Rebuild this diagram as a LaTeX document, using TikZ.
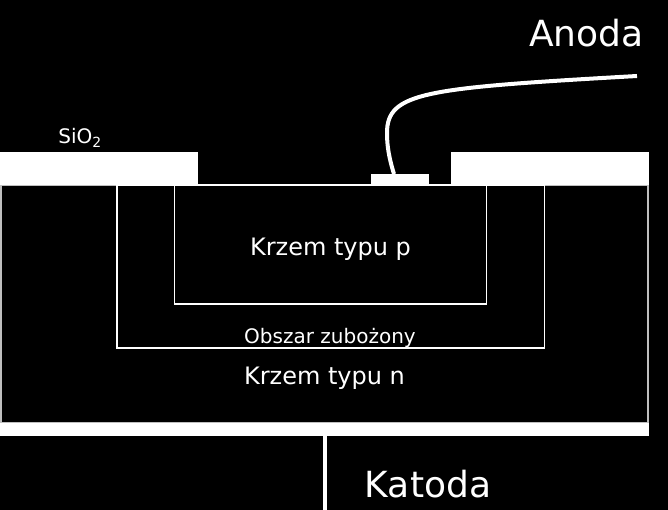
\documentclass[tikz,border=0pt]{standalone}
\usepackage{fontspec}
\setmainfont{DejaVu Sans}
\usepackage{tikz}
\usetikzlibrary{positioning}
\tikzset{
  oxide/.style={rectangle,fill=white,draw=none,inner sep=0pt,outer sep=0pt},
  region/.style={rectangle,draw=white,line width=1.2pt,inner sep=0pt,outer sep=0pt},
  label/.style={text=white,inner sep=0pt},
  wire/.style={draw=white,line width=4pt}
}

\begin{document}
\begin{tikzpicture}[x=1pt,y=-1pt]
  \fill[black] (0,0) rectangle (668,510);
  \useasboundingbox (0,0) rectangle (668,510);
  \node[region,draw=white!75!black,minimum width=647pt,minimum height=238pt] (substrate) at (324.5,304) {};
  \node[region,minimum width=427.5pt,minimum height=163pt] (depletion) at (330.75,266.5) {};
  \node[region,minimum width=312pt,minimum height=119pt] (ptype) at (330.5,244.5) {};
  \node[oxide,minimum width=198pt,minimum height=33pt] (oxideleft) at (99,168.5) {};
  \node[oxide,minimum width=198pt,minimum height=33pt] (oxideright) at (550,168.5) {};
  \node[oxide,minimum width=58pt,minimum height=11pt] (contact) at (400,179.5) {};
  \node[oxide,minimum width=649pt,minimum height=13pt] (cathode) at (324.5,429.5) {};
  \coordinate (anodeend) at (637,76);
  \coordinate (cathodeend) at (325,510);

  \draw[wire] ([xshift=-6pt]contact.north) .. controls (389,158) and (387,146) .. (387,133)
    .. controls (387,92) and (425,88) .. (anodeend);
  \draw[wire] (cathode.south -| cathodeend) -- (cathodeend);

  \node[label,font=\fontsize{36}{36}\selectfont] (anode) at (586.5,33) {Anoda};
  \node[label,font=\fontsize{36}{36}\selectfont] (katode) at (428,484) {Katoda};
  \node[label,font=\fontsize{20}{20}\selectfont] (oxidelabel) at (80,138) {SiO\textsubscript{2}};
  \node[label,font=\fontsize{24}{24}\selectfont] (plabel) at (330.5,249) {Krzem typu p};
  \node[label,font=\fontsize{24}{24}\selectfont] (nlabel) at (324.5,378) {Krzem typu n};
  \node[label,font=\fontsize{20}{20}\selectfont] (depletionlabel) at (330,338) {Obszar zubożony};
\end{tikzpicture}
\end{document}
